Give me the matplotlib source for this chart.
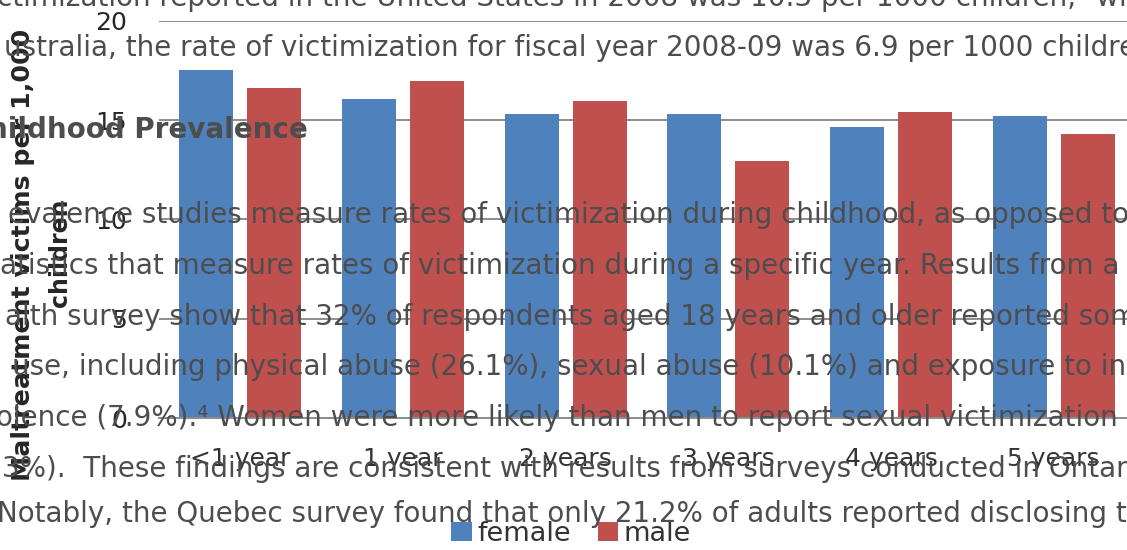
import matplotlib
matplotlib.use("Agg")
import matplotlib.pyplot as plt
import numpy as np

categories = ["<1 year", "1 year", "2 years", "3 years", "4 years", "5 years"]
female = [17.5, 16.05, 15.3, 15.3, 14.65, 15.2]
male = [16.6, 16.95, 15.95, 12.95, 15.4, 14.3]
yticks = [0, 5, 10, 15, 20]
ylabel_lines = ["Maltreatment victims per 1,000", "children"]
series_names = ["female", "male"]

doc_lines = [
    "ctimization reported in the United States in 2008 was 10.3 per 1000 children,\u2075 wi",
    "ustralia, the rate of victimization for fiscal year 2008-09 was 6.9 per 1000 children",
    "evalence studies measure rates of victimization during childhood, as opposed to",
    "atistics that measure rates of victimization during a specific year. Results from a",
    "alth survey show that 32% of respondents aged 18 years and older reported some",
    "use, including physical abuse (26.1%), sexual abuse (10.1%) and exposure to inti",
    "olence (7.9%).\u2074 Women were more likely than men to report sexual victimization",
    "3%).  These findings are consistent with results from surveys conducted in Ontario",
    "Notably, the Quebec survey found that only 21.2% of adults reported disclosing t",
]
heading = "hildhood Prevalence"

W, H = 1127, 550
fig = plt.figure(figsize=(W / 100, H / 100), dpi=100)
ax_left, ax_right, ax_top, ax_bottom = 159, 1135, 20.7, 418
ax = fig.add_axes([ax_left / W, (H - ax_bottom) / H, (ax_right - ax_left) / W, (ax_bottom - ax_top) / H])

x = np.arange(len(categories))
w = 0.332
off = 0.209
b1 = ax.bar(x - off, female, w, color="#4F81BD", label=series_names[0], zorder=2)
b2 = ax.bar(x + off, male, w, color="#C0504D", label=series_names[1], zorder=2)

ax.set_xlim(-0.5, 5.5)
ax.set_ylim(0, 20)
ax.set_yticks(yticks)
ax.set_xticks(x)
ax.set_xticklabels(categories)
ax.yaxis.grid(True, color="#8c8c8c", linewidth=1.4, zorder=1)
ax.set_axisbelow(True)
for s in ["left", "right", "top"]:
    ax.spines[s].set_visible(False)
ax.spines["bottom"].set_color("#8c8c8c")
ax.spines["bottom"].set_linewidth(1.4)
ax.tick_params(axis="y", length=0, pad=23, labelsize=18, labelcolor="#262626")
ax.tick_params(axis="x", length=0, pad=21, labelsize=18, labelcolor="#333333")

# y-axis title (two lines)
fig.text(23 / W, 1 - 255 / H, ylabel_lines[0], rotation=90, ha="center", va="center",
         fontsize=18.2, fontweight="bold", color="#262626")
fig.text(60 / W, 1 - 253 / H, ylabel_lines[1], rotation=90, ha="center", va="center",
         fontsize=17, fontweight="bold", color="#262626")

# legend
ax.legend(handles=[b1, b2], loc="center", bbox_to_anchor=(571 / W, 1 - 534 / H),
          bbox_transform=fig.transFigure, ncol=2, frameon=False, fontsize=19.5,
          handlelength=0.75, handleheight=0.75, handletextpad=0.2, columnspacing=1.0,
          labelcolor="#333333")

# overlaid document text
doc_color = "#4d4d4d"
doc_size = 20
doc_x = [-3, 4, 8, 0, 5, 12, -4, 2, -3]
doc_y = [6, 56, 223, 274, 325, 375, 426, 477, 522]
for t, dx, dy in zip(doc_lines, doc_x, doc_y):
    fig.text(dx / W, 1 - dy / H, t, ha="left", va="baseline", fontsize=doc_size, color=doc_color, zorder=5)
fig.text(-12 / W, 1 - 138 / H, heading, ha="left", va="baseline", fontsize=doc_size,
         fontweight="bold", color=doc_color, zorder=5)

fig.savefig("out.png", dpi=100)
